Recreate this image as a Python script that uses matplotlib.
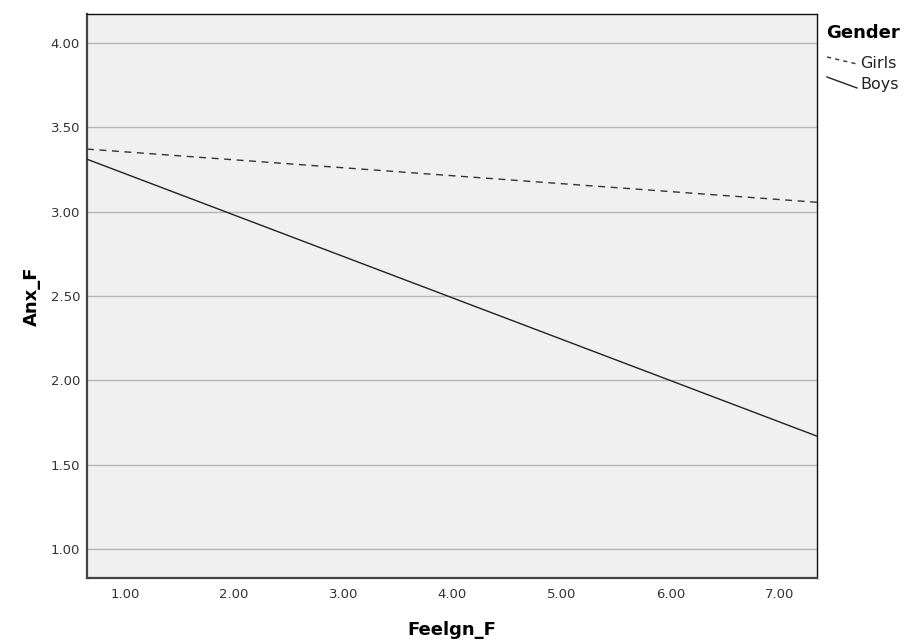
import matplotlib
matplotlib.use("Agg")
import matplotlib.pyplot as plt
from matplotlib.lines import Line2D

# fitted lines, read at the left and right edges of the plot
x_ends = [0.652, 7.339]
girls = [3.37, 3.055]
boys = [3.31, 1.67]

xticks = [1, 2, 3, 4, 5, 6, 7]
yticks = [1.0, 1.5, 2.0, 2.5, 3.0, 3.5, 4.0]

plt.rcParams['font.family'] = ['DejaVu Sans']

fig = plt.figure(figsize=(9.06, 6.4), dpi=100)
ax = fig.add_axes([87 / 906, 1 - 578 / 640, 730 / 906, 564 / 640])
ax.set_facecolor('#f0f0f0')

for y in yticks:
    ax.axhline(y, color='#b4b4b4', lw=1.0, zorder=1)

ax.plot(x_ends, girls, color='#333333', lw=1.0, linestyle=(0, (5, 4)), zorder=3)
ax.plot(x_ends, boys, color='#222222', lw=1.0, zorder=3)

ax.set_xlim(x_ends[0], x_ends[1])
ax.set_ylim(0.83, 4.17)
ax.set_xticks(xticks)
ax.set_xticklabels(['%.2f' % v for v in xticks])
ax.set_yticks(yticks)
ax.set_yticklabels(['%.2f' % v for v in yticks])
ax.tick_params(length=0, labelsize=9.5, colors='#333333')
ax.tick_params(axis='x', pad=7)
ax.tick_params(axis='y', pad=5)

for s in ['left', 'bottom']:
    ax.spines[s].set_color('#444444')
    ax.spines[s].set_linewidth(1.6)
for s in ['top', 'right']:
    ax.spines[s].set_color('#111111')
    ax.spines[s].set_linewidth(1.0)

ax.set_xlabel('Feelgn_F', fontsize=13, fontweight='bold')
ax.set_ylabel('Anx_F', fontsize=13, fontweight='bold')
ax.xaxis.set_label_coords(0.5, (578 - 630) / 564)
ax.xaxis.label.set_va('center')
ax.yaxis.set_label_coords((32 - 87) / 730, 0.5)
ax.yaxis.label.set_va('center')

# legend with slanted samples, like the SPSS output
W, H = 906, 640
fig.text(826 / W, 1 - 33 / H, 'Gender', fontsize=13, fontweight='bold', va='center', ha='left')
fig.add_artist(Line2D([827 / W, 857 / W], [1 - 57 / H, 1 - 64 / H], color='#333333',
                      lw=1.0, linestyle=(0, (3, 3)), transform=fig.transFigure))
fig.text(860 / W, 1 - 63 / H, 'Girls', fontsize=11.5, va='center', ha='left', color='#222222')
fig.add_artist(Line2D([827 / W, 857 / W], [1 - 77 / H, 1 - 88 / H], color='#222222',
                      lw=1.0, transform=fig.transFigure))
fig.text(860 / W, 1 - 85 / H, 'Boys', fontsize=11.5, va='center', ha='left', color='#222222')

fig.savefig('out.png', dpi=100)
